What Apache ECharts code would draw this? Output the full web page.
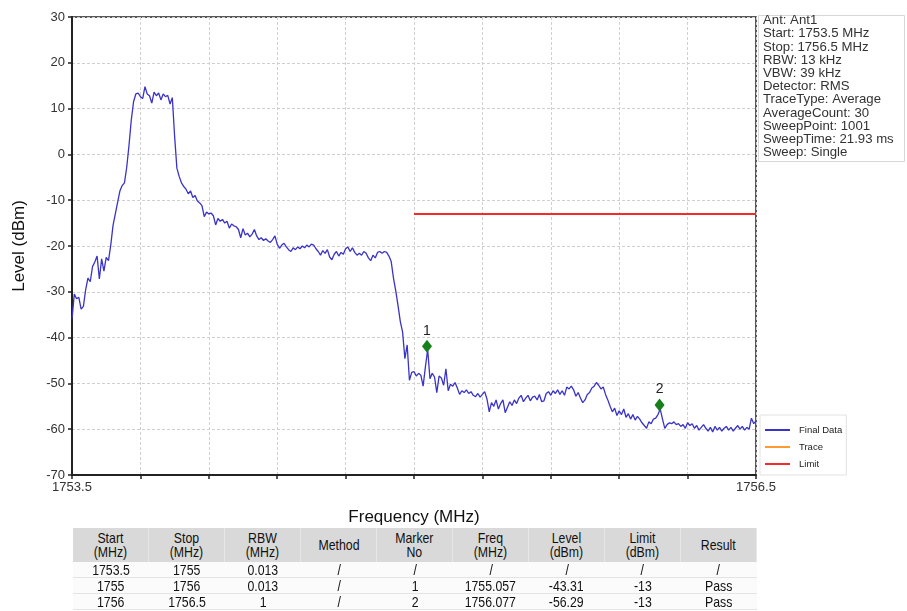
<!DOCTYPE html>
<html>
<head>
<meta charset="utf-8">
<script src="https://cdn.jsdelivr.net/npm/echarts@6/dist/echarts.min.js"></script>
<style>
  html, body { margin: 0; padding: 0; background: #ffffff; }
  #chart { position: absolute; left: 0; top: 0; width: 907px; height: 611px; }
  #tbl { position: absolute; left: 73px; top: 528px; width: 684px; border-collapse: collapse;
         font-family: "Liberation Sans", Arial, sans-serif;
         font-size: 15px; color: #111; table-layout: fixed; }
  #tbl th { background: #d9d9d9; font-weight: normal; line-height: 14.5px; height: 34px; padding: 0;
            border-right: 1px solid #e6e6e6; }
  #tbl td { text-align: center; height: 15px; line-height: 15px; padding: 0; border-bottom: 1px solid #e4e4e4; background: #fbfbfb; }
  #tbl span { display: inline-block; transform: scaleX(0.82); white-space: nowrap; }
</style>
</head>
<body>
<div id="chart"></div>
<table id="tbl"><thead><tr id="thead"></tr></thead><tbody id="tbody"></tbody></table>
<script>
// ---- Data ----
const freqStart = 1753.5;     // MHz
const freqStop = 1756.5;      // MHz
const freqStep = 0.01;        // MHz between trace samples below
const traceLevels = [
  -36.0, -30.5, -31.5, -31.2, -33.8, -33.2, -29.5, -27.0, -27.8, -24.5,
  -23.5, -22.2, -27.2, -22.8, -25.5, -22.5, -23.2, -19.8, -15.5, -13.0,
  -10.5, -8.0, -6.8, -6.2, -2.8, 2.0, 7.5, 11.5, 13.2, 13.4,
  12.6, 12.2, 14.8, 13.2, 12.8, 11.2, 13.6, 12.8, 13.4, 11.9,
  13.2, 12.6, 12.9, 11.0, 12.4, 4.0, -3.0, -4.8, -6.2, -7.0,
  -7.6, -8.6, -8.0, -9.4, -9.0, -10.2, -10.6, -11.2, -13.6, -12.6,
  -13.0, -12.8, -13.4, -15.4, -14.0, -14.6, -14.2, -15.0, -14.6, -16.1,
  -15.2, -15.6, -15.8, -16.4, -18.2, -16.2, -17.6, -17.2, -18.0, -17.4,
  -16.4, -17.8, -18.6, -18.2, -18.8, -18.4, -18.9, -19.2, -18.6, -17.8,
  -19.6, -20.5, -19.8, -19.4, -20.2, -20.8, -21.2, -20.4, -20.8, -20.2,
  -20.6, -20.0, -20.4, -19.8, -20.2, -19.6, -19.8, -20.6, -21.2, -22.0,
  -21.0, -21.6, -20.8, -22.4, -23.0, -21.8, -21.2, -22.2, -21.4, -21.8,
  -20.6, -20.2, -21.2, -20.4, -21.4, -22.0, -21.6, -22.0, -21.2, -21.6,
  -22.6, -23.2, -22.0, -22.6, -21.4, -21.2, -21.6, -21.2, -21.4, -22.2,
  -23.4, -27.0, -29.8, -33.0, -36.5, -38.8, -44.6, -41.6, -49.3, -47.6,
  -47.4, -48.4, -47.8, -48.2, -50.6, -46.4, -42.6, -49.0, -47.8, -48.6,
  -52.0, -48.4, -48.8, -50.4, -46.8, -51.6, -50.2, -50.6, -49.8, -51.0,
  -52.4, -51.6, -52.0, -51.4, -52.2, -51.8, -52.6, -52.9, -52.2, -53.0,
  -52.4, -51.8, -53.4, -56.2, -54.2, -55.0, -53.6, -55.6, -54.4, -53.6,
  -56.4, -55.2, -54.0, -54.8, -53.6, -54.4, -53.2, -52.6, -54.0, -53.2,
  -52.6, -53.8, -53.0, -52.8, -53.6, -52.4, -54.0, -53.8, -52.2, -51.8,
  -52.6, -51.6, -52.2, -51.4, -52.4, -51.6, -52.6, -50.8, -51.2, -50.6,
  -51.4, -52.8, -52.0, -53.2, -54.2, -53.6, -52.4, -52.0, -51.0, -50.6,
  -49.8, -50.4, -51.2, -50.8, -52.4, -53.6, -55.0, -56.2, -55.4, -57.0,
  -56.0, -56.8, -55.6, -57.4, -56.6, -57.8, -56.8, -58.0, -57.2, -57.8,
  -58.6, -59.2, -59.8, -58.4, -58.8, -57.8, -57.6, -56.8, -55.6, -57.8,
  -59.8, -59.0, -58.6, -58.8, -58.4, -59.0, -58.8, -59.4, -59.0, -59.8,
  -58.6, -59.2, -58.8, -59.8, -59.2, -60.2, -59.6, -59.0, -59.8, -60.4,
  -59.6, -60.6, -59.4, -60.2, -59.6, -60.4, -59.8, -59.4, -60.2, -59.6,
  -60.4, -59.8, -59.2, -60.0, -59.4, -60.2, -59.6, -60.0, -57.6, -58.8,
  -58.2
];
const limitFreqs = [1755, 1756.5];
const limitLevels = [-13, -13];
const markerNames = ["1", "2"];
const markerFreqs = [1755.057, 1756.077];
const markerLevels = [-41.9, -54.7];   // drawn positions
const yTicks = [-70, -60, -50, -40, -30, -20, -10, 0, 10, 20, 30];
const infoLines = ["Ant: Ant1", "Start: 1753.5 MHz", "Stop: 1756.5 MHz", "RBW: 13 kHz",
  "VBW: 39 kHz", "Detector: RMS", "TraceType: Average", "AverageCount: 30",
  "SweepPoint: 1001", "SweepTime: 21.93 ms", "Sweep: Single"];
const legendNames = ["Final Data", "Trace", "Limit"];
const tableHeader = [["Start", "(MHz)"], ["Stop", "(MHz)"], ["RBW", "(MHz)"], ["Method"], ["Marker", "No"],
  ["Freq", "(MHz)"], ["Level", "(dBm)"], ["Limit", "(dBm)"], ["Result"]];
const tableRows = [
  ["1753.5", "1755", "0.013", "/", "/", "/", "/", "/", "/"],
  ["1755", "1756", "0.013", "/", "1", "1755.057", "-43.31", "-13", "Pass"],
  ["1756", "1756.5", "1", "/", "2", "1756.077", "-56.29", "-13", "Pass"]
];

// ---- Build table ----
const thead = document.getElementById('thead');
tableHeader.forEach(h => {
  const th = document.createElement('th');
  const sp = document.createElement('span');
  h.forEach((line, k) => { if (k) sp.appendChild(document.createElement('br')); sp.appendChild(document.createTextNode(line)); });
  th.appendChild(sp); thead.appendChild(th);
});
const tbody = document.getElementById('tbody');
tableRows.forEach(r => {
  const tr = document.createElement('tr');
  r.forEach(c => {
    const td = document.createElement('td'); const sp = document.createElement('span');
    sp.textContent = c; td.appendChild(sp); tr.appendChild(td);
  });
  tbody.appendChild(tr);
});

// ---- Chart ----
const traceData = traceLevels.map((v, i) => [+(freqStart + i * freqStep).toFixed(3), v]);
const limitData = limitFreqs.map((f, i) => [f, limitLevels[i]]);
const markerData = markerFreqs.map((f, i) => ({ value: [f, markerLevels[i]], name: markerNames[i] }));
const FONT = '"Liberation Sans", Arial, sans-serif';

const chart = echarts.init(document.getElementById('chart'), null, { renderer: 'canvas' });
chart.setOption({
  animation: false,
  backgroundColor: '#ffffff',
  grid: { left: 72, right: 151, top: 17, bottom: 136, show: true, borderColor: '#222', borderWidth: 1.5,
          containLabel: false },
  xAxis: {
    type: 'value', min: freqStart, max: freqStop, interval: 0.3,
    name: 'Frequency (MHz)', nameLocation: 'middle', nameGap: 34,
    nameTextStyle: { fontFamily: FONT, fontSize: 17, color: '#111' },
    axisLine: { show: true, onZero: false, lineStyle: { color: '#222', width: 2 } },
    axisTick: { show: true, length: 4, lineStyle: { color: '#222', width: 1.5 } },
    axisLabel: {
      fontFamily: FONT, fontSize: 13, color: '#333', margin: 6, showMinLabel: true, showMaxLabel: true,
      formatter: v => (Math.abs(v - freqStart) < 1e-6 || Math.abs(v - freqStop) < 1e-6) ? String(v) : ''
    },
    splitLine: { show: true, lineStyle: { color: '#d0d0d0', width: 1, type: [3, 2] } }
  },
  yAxis: {
    type: 'value', min: yTicks[0], max: yTicks[yTicks.length - 1], interval: 10,
    name: 'Level (dBm)', nameLocation: 'middle', nameGap: 44, nameRotate: 90,
    nameTextStyle: { fontFamily: FONT, fontSize: 17, color: '#111' },
    axisLine: { show: true, onZero: false, lineStyle: { color: '#222', width: 2 } },
    axisTick: { show: true, length: 4, lineStyle: { color: '#222', width: 1.5 } },
    axisLabel: { fontFamily: FONT, fontSize: 13, color: '#333', margin: 7 },
    splitLine: { show: true, lineStyle: { color: '#d0d0d0', width: 1, type: [3, 2] } }
  },
  legend: {
    orient: 'vertical', left: 760, bottom: 136, itemWidth: 25, itemHeight: 2, itemGap: 7,
    padding: [10, 4, 6, 5], borderColor: '#e2e2e2', borderWidth: 1, backgroundColor: '#fff',
    textStyle: { fontFamily: FONT, fontSize: 9.5, color: '#222', padding: [0, 0, 0, 4] },
    data: legendNames.map(n => ({ name: n, icon: 'rect' }))
  },
  series: [
    { name: legendNames[0], type: 'line', data: traceData, showSymbol: false, symbol: 'none',
      lineStyle: { color: '#3a33c8', width: 1.3 }, itemStyle: { color: '#3a33c8' }, z: 3 },
    { name: legendNames[1], type: 'line', data: [], showSymbol: false,
      lineStyle: { color: '#ff9a2e', width: 1.2 }, itemStyle: { color: '#ff9a2e' } },
    { name: legendNames[2], type: 'line', data: limitData, showSymbol: false, symbol: 'none',
      lineStyle: { color: '#f52a2a', width: 2 }, itemStyle: { color: '#f52a2a' }, z: 4 },
    { name: 'Markers', type: 'scatter', data: markerData, symbol: 'diamond', symbolSize: [10, 13],
      itemStyle: { color: '#17801a', opacity: 1 }, z: 5,
      label: { show: true, position: 'top', distance: 2, formatter: p => p.name,
               fontFamily: FONT, fontSize: 14, color: '#222' } }
  ],
  graphic: [
    { type: 'rect', left: 758, top: 15, shape: { width: 146, height: 146 },
      style: { fill: '#fff', stroke: '#d8d8d8', lineWidth: 1 }, z: 10 },
    { type: 'text', left: 763, top: 14, z: 11,
      style: { text: infoLines.join('\n'), fontFamily: FONT, fontSize: 13.2, lineHeight: 13.2, fill: '#333' } }
  ]
});
</script>
</body>
</html>
